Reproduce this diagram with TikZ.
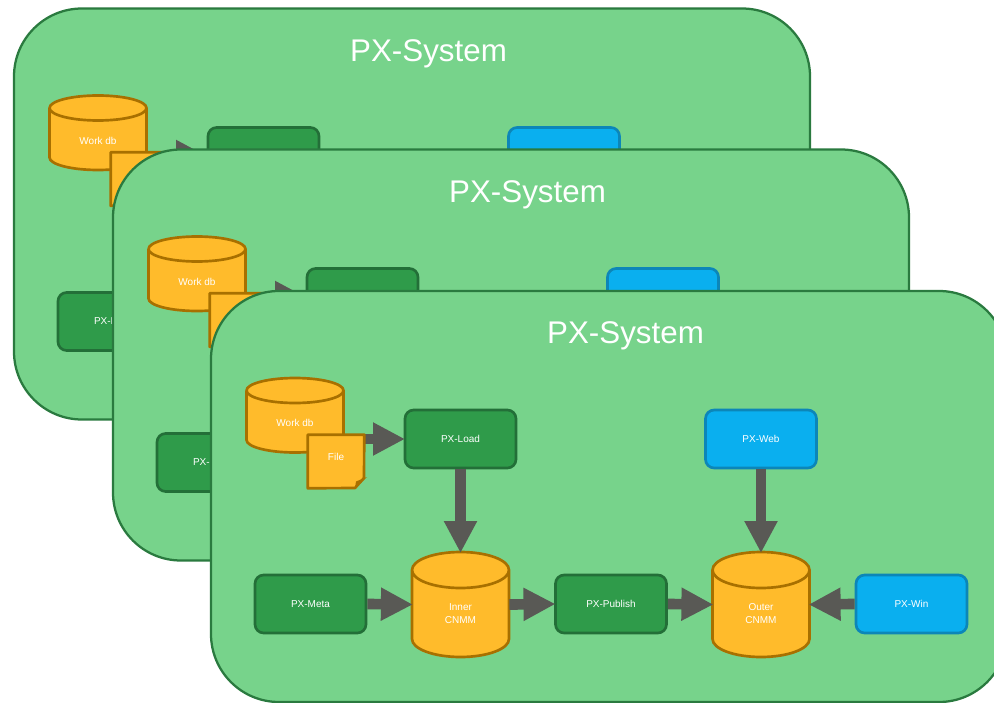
\documentclass[tikz,border=0pt]{standalone}
\usepackage{fontspec}
\setmainfont{Liberation Sans}
\usetikzlibrary{arrows.meta}
\definecolor{panelfill}{HTML}{77D38B}
\definecolor{panelline}{HTML}{2A7A3F}
\definecolor{dbfill}{HTML}{FFBB2B}
\definecolor{dbline}{HTML}{A87000}
\definecolor{loadfill}{HTML}{2F9B4A}
\definecolor{loadline}{HTML}{236F38}
\definecolor{webfill}{HTML}{0AAFEF}
\definecolor{webline}{HTML}{0C86B8}
\definecolor{flowgray}{HTML}{595955}
\tikzset{
  panel/.style={draw=panelline,fill=panelfill,line width=1.7pt,rounded corners=51pt,minimum width=597pt,minimum height=308.25pt,inner sep=0pt},
  paneltitle/.style={text=white,font=\fontsize{23.5}{28}\selectfont,inner sep=0pt},
  anybox/.style={rounded corners=6.5pt,line width=2pt,minimum width=83.25pt,minimum height=43.5pt,inner sep=0pt,text=white,font=\fontsize{7.5}{9.75}\selectfont},
  greenbox/.style={anybox,draw=loadline,fill=loadfill},
  bluebox/.style={anybox,draw=webline,fill=webfill},
  dbshape/.style={draw=dbline,fill=dbfill,line width=2pt,line join=round},
  dbtext/.style={text=white,font=\fontsize{7.5}{9.75}\selectfont,align=center,inner sep=0pt},
  anchorbox/.style={inner sep=0pt,minimum width=73pt},
  flow/.style={draw=flowgray,line width=8pt,shorten >=-1pt,-{Triangle[length=24pt,width=23.25pt,fill=flowgray]}},
}
% #1 name, #2 centre x, #3 top, #4 bottom, #5 radius y of the ellipses
\newcommand{\dbcyl}[5]{%
  \draw[dbshape] ({#2-48.5},{#3+#5}) -- ({#2-48.5},{#4-#5})
    .. controls +(0,{.5523*#5}) and +({-.5523*48.5},0) .. ({#2},{#4})
    .. controls +({.5523*48.5},0) and +(0,{.5523*#5}) .. ({#2+48.5},{#4-#5})
    -- ({#2+48.5},{#3+#5})
    .. controls +(0,{-.5523*#5}) and +({.5523*48.5},0) .. ({#2},{#3})
    .. controls +({-.5523*48.5},0) and +(0,{-.5523*#5}) .. ({#2-48.5},{#3+#5})
    .. controls +(0,{.5523*#5}) and +({-.5523*48.5},0) .. ({#2},{#3+2*#5})
    .. controls +({.5523*48.5},0) and +(0,{.5523*#5}) .. ({#2+48.5},{#3+#5});
  \node[anchorbox,minimum height={(#4-#3)*.75pt}] (#1) at ({#2},{(#3+#4)/2}) {};
}
% #1 prefix, #2 text of the load box, #3 text of the web box
\newcommand{\layer}[3]{%
  \node[panel] (#1panel) at (609,496.5) {};
  \node[paneltitle] (#1title) at (625.5,336) {PX-System};
  \dbcyl{#1work}{295}{378}{452.5}{12.5}
  \node[dbtext] (#1workT) at (295,423) {Work db};
  \node[greenbox] (#1load) at (460.5,439) {#2};
  \node[bluebox] (#1web) at (761,439) {#3};
  \node[inner sep=0pt,minimum width=42pt,minimum height=39.75pt] (#1file) at (336,461.5) {};
  \draw[flow] (#1file.east |- #1load.west) -- (#1load.west);
  \draw[dbshape] (#1file.north west) -- (#1file.north east) -- (364,478) -- (355,488) -- (#1file.south west) -- cycle;
  \fill[dbline] (367,477) -- (356,481.5) -- (355,488) -- cycle;
  \node[greenbox] (#1meta) at (310.5,604) {PX-Meta};
}
\begin{document}
\begin{tikzpicture}[x=.75pt,y=-.75pt]
\useasboundingbox (0,0) rectangle (994,702);
\fill[white] (0,0) rectangle (994,702);
% rear layer
\begin{scope}[shift={(-197,-282.5)}]
  \layer{a}{}{}
\end{scope}
% middle layer
\begin{scope}[shift={(-98,-141.5)}]
  \layer{b}{}{}
\end{scope}
% front layer
\layer{c}{PX-Load}{PX-Web}
\node[dbtext] (cfileT) at (336,457) {File};
\node[greenbox] (cpub) at (611,604) {PX-Publish};
\node[bluebox] (cwin) at (911.5,604) {PX-Win};
\dbcyl{cinner}{460.5}{552}{657}{18}
\node[dbtext] (cinnerT) at (460.5,614) {Inner\\CNMM};
\dbcyl{couter}{761}{552}{657}{18}
\node[dbtext] (couterT) at (761,614) {Outer\\CNMM};
\draw[flow] (cload.south) -- (cinner.north);
\draw[flow] (cweb.south) -- (couter.north);
\draw[flow] (cmeta.east) -- (cinner.west);
\draw[flow] (cinner.east) -- (cpub.west);
\draw[flow] (cpub.east) -- (couter.west);
\draw[flow] (cwin.west) -- (couter.east);
\end{tikzpicture}
\end{document}
